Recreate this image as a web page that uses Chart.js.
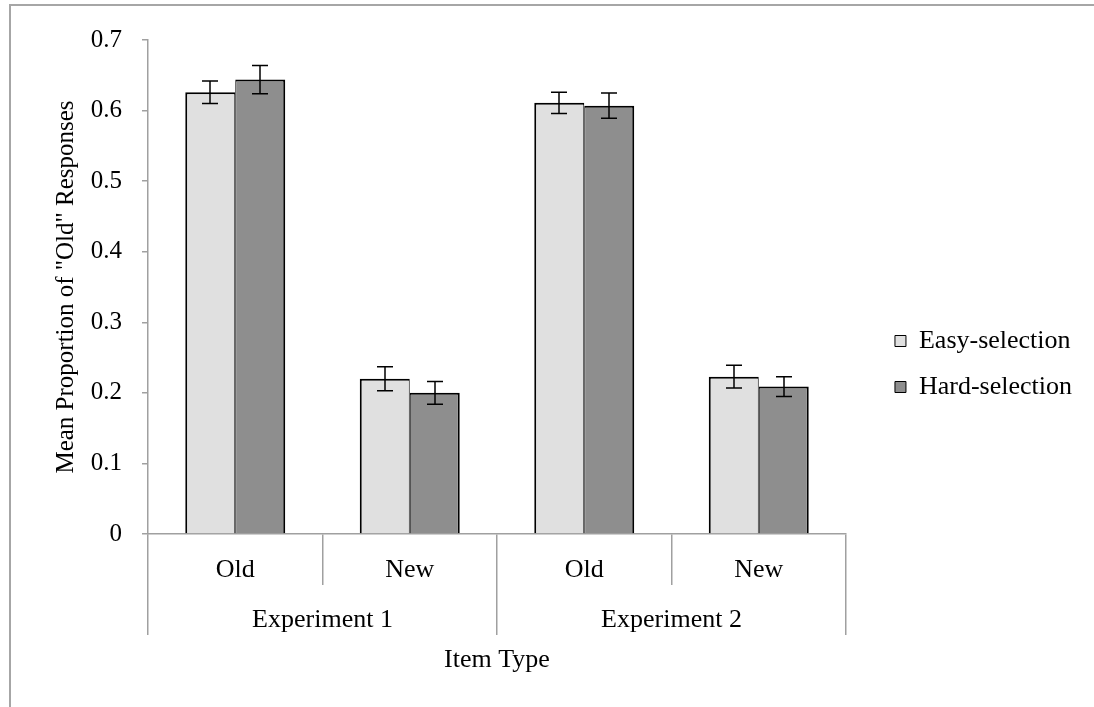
<!DOCTYPE html>
<html>
<head>
<meta charset="utf-8">
<script src="https://cdn.jsdelivr.net/npm/chart.js@4.4.1/dist/chart.umd.min.js"></script>
<style>
  html, body { margin: 0; padding: 0; background: #fff; }
  #wrap { position: relative; width: 1094px; height: 707px; overflow: hidden; }
  #frame { position: absolute; left: 9px; top: 4px; right: -10px; bottom: -10px; border-left: 2px solid #a6a6a6; border-top: 2px solid #a6a6a6; }
  #chart { position: absolute; left: 0; top: 0; }
</style>
</head>
<body>
<div id="wrap">
  <div id="frame"></div>
  <canvas id="chart" width="1094" height="707"></canvas>
</div>
<script>
const categories = ['Old', 'New', 'Old', 'New']
const groups = ['Experiment 1', 'Experiment 2']
const easyMeans = [0.626, 0.220, 0.611, 0.223]
const easyErrors = [0.016, 0.017, 0.015, 0.016]
const hardMeans = [0.644, 0.200, 0.607, 0.209]
const hardErrors = [0.020, 0.016, 0.018, 0.014]
const yTickLabels = ['0', '0.1', '0.2', '0.3', '0.4', '0.5', '0.6', '0.7']

const axisGray = '#a0a0a0'
const plotRight = 846

Chart.defaults.font.family = "'Liberation Serif', 'Times New Roman', serif"
Chart.defaults.font.size = 26
Chart.defaults.color = '#000'

// whiskers drawn on top of each bar, from the y scale
const errorBars = {
  id: 'errorBars',
  afterDatasetsDraw(chart) {
    const ctx = chart.ctx
    const y = chart.scales.y
    ctx.save()
    ctx.strokeStyle = '#000'
    ctx.lineWidth = 1.5
    chart.data.datasets.forEach((ds, i) => {
      chart.getDatasetMeta(i).data.forEach((bar, j) => {
        const top = y.getPixelForValue(ds.data[j] + ds.errors[j])
        const bottom = y.getPixelForValue(ds.data[j] - ds.errors[j])
        const x = Math.round(bar.x)
        ctx.beginPath()
        ctx.moveTo(x, top)
        ctx.lineTo(x, bottom)
        ctx.moveTo(x - 8, top)
        ctx.lineTo(x + 8, top)
        ctx.moveTo(x - 8, bottom)
        ctx.lineTo(x + 8, bottom)
        ctx.stroke()
      })
    })
    ctx.restore()
  },
}

const ctx = document.getElementById('chart').getContext('2d')
const myChart = new Chart(ctx, {
  type: 'bar',
  data: {
    labels: categories,
    datasets: [
      {
        label: 'Easy-selection',
        data: easyMeans,
        errors: easyErrors,
        backgroundColor: '#e0e0e0',
        borderColor: '#000',
        borderWidth: { top: 2, left: 2, right: 1, bottom: 0 },
        borderSkipped: false,
      },
      {
        label: 'Hard-selection',
        data: hardMeans,
        errors: hardErrors,
        backgroundColor: '#8e8e8e',
        borderColor: '#000',
        borderWidth: { top: 2, left: 1, right: 2, bottom: 0 },
        borderSkipped: false,
      },
    ],
  },
  options: {
    responsive: false,
    animation: false,
    layout: { padding: { left: 40, top: 40, right: 12, bottom: 0 } },
    datasets: {
      bar: { categoryPercentage: 0.573, barPercentage: 1 },
    },
    plugins: {
      tooltip: { enabled: false },
      legend: {
        position: 'right',
        align: 'start',
        maxWidth: 240,
        // blank title only pushes the two entries down
        title: { display: true, text: ' ', font: { size: 10 }, padding: { top: 256, bottom: 0 } },
        labels: {
          boxWidth: 11,
          boxHeight: 11,
          padding: 20,
          font: { size: 26 },
          generateLabels(chart) {
            return Chart.defaults.plugins.legend.labels.generateLabels(chart).map((l) => ({ ...l, lineWidth: 1 }))
          },
        },
      },
    },
    scales: {
      y: {
        min: 0,
        max: 0.7,
        ticks: {
          stepSize: 0.1,
          padding: 20,
          font: { size: 25 },
          callback: function (value, index) {
            return yTickLabels[index]
          },
        },
        grid: { drawOnChartArea: false, tickLength: 6, color: axisGray, lineWidth: 1.5 },
        border: { color: axisGray, width: 1.5 },
        title: { display: true, text: 'Mean Proportion of "Old" Responses', font: { size: 25 }, padding: { top: 11, bottom: 0 } },
        afterFit: (s) => { s.width = 108 },
      },
      x: {
        ticks: { padding: -30, maxRotation: 0, autoSkip: false },
        grid: { offset: true, drawOnChartArea: false, tickLength: 51, color: axisGray, lineWidth: 1.5 },
        border: { color: axisGray, width: 1.5 },
        afterFit: (s) => { s.height = 51 },
      },
      x2: {
        type: 'category',
        position: 'bottom',
        labels: groups,
        offset: true,
        ticks: { padding: -30, maxRotation: 0, autoSkip: false },
        grid: { offset: true, drawOnChartArea: false, tickLength: 50, color: axisGray, lineWidth: 1.5 },
        border: { display: false },
        title: { display: true, text: 'Item Type', padding: { top: 0, bottom: 31 } },
        afterFit: (s) => { s.height = 122 },
      },
      // empty spacer between the plot and the legend
      gap: {
        type: 'linear',
        position: 'right',
        grid: { display: false },
        border: { display: false },
        ticks: { display: false },
        afterFit: (s) => { s.width = s.chart.width - 12 - s.chart.legend.width - plotRight },
      },
    },
  },
  plugins: [errorBars],
})
</script>
</body>
</html>
